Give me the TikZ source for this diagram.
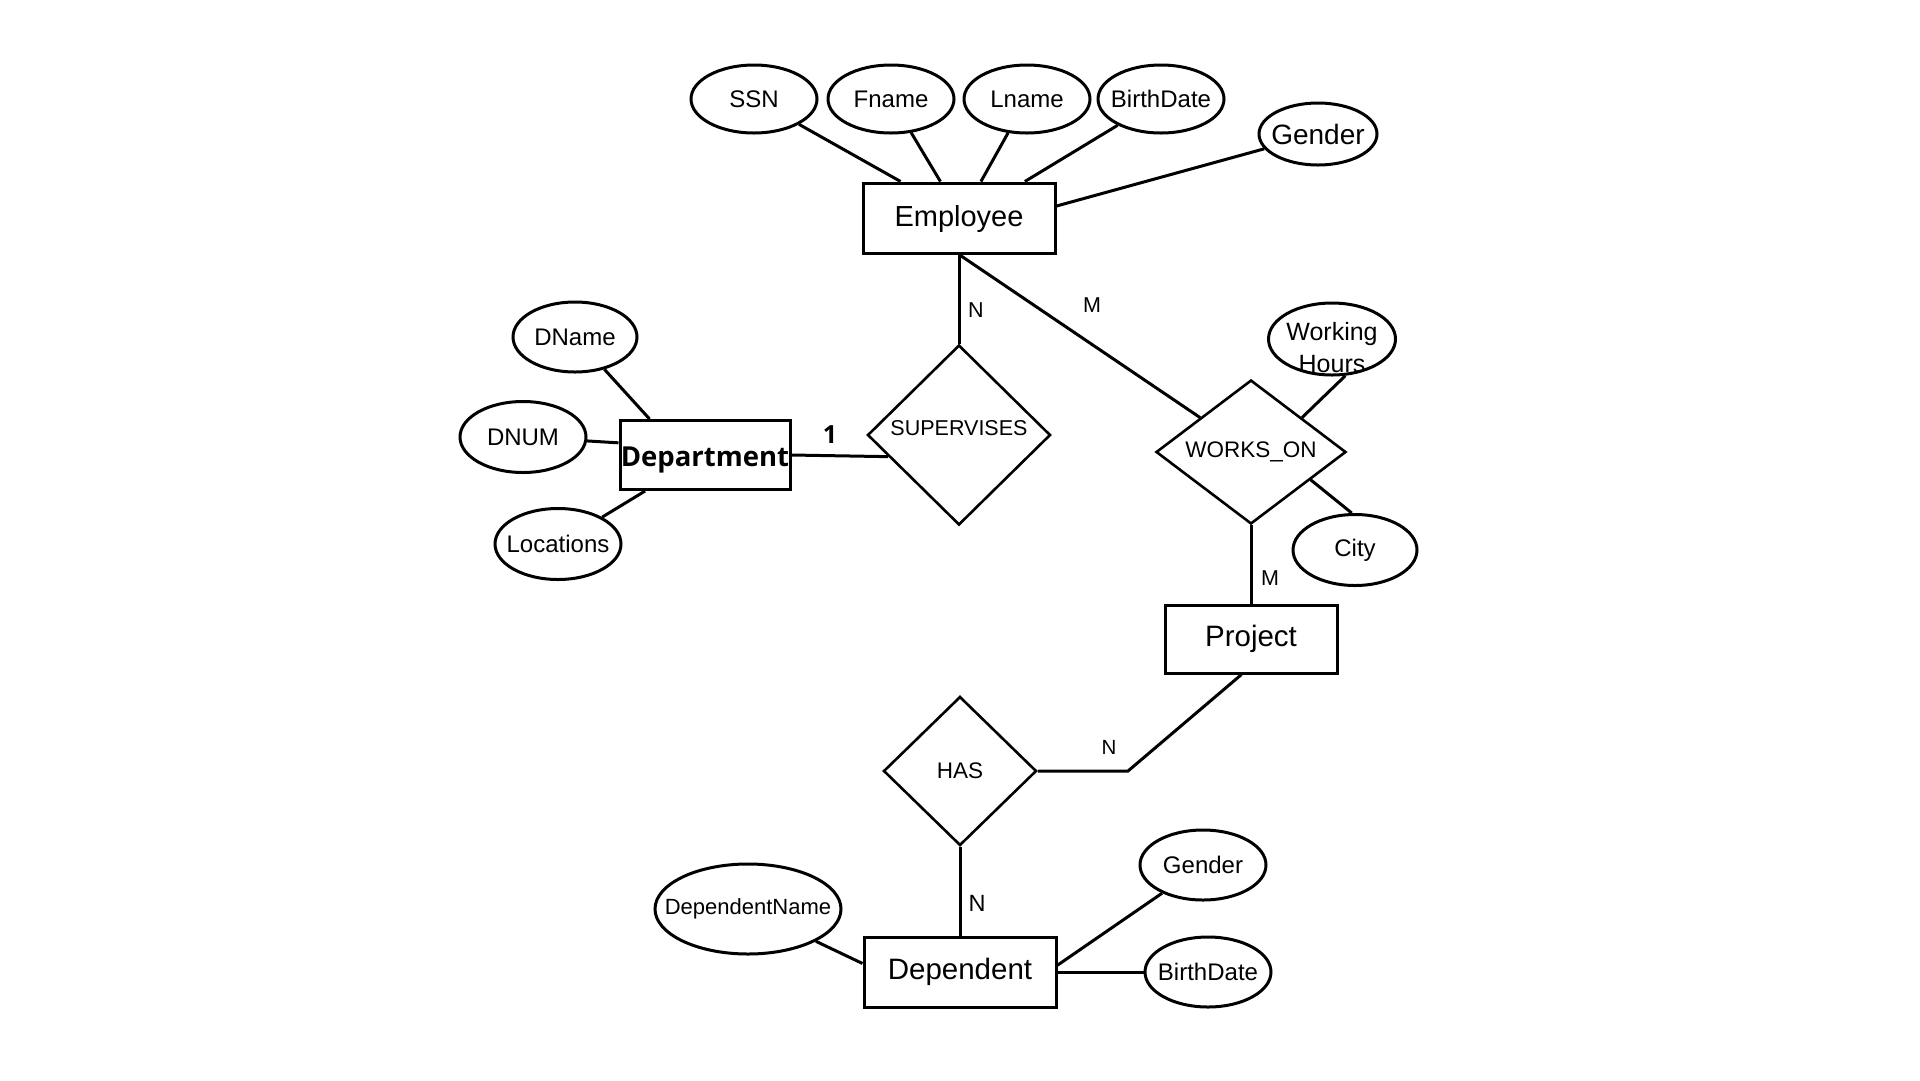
\documentclass[tikz,border=0pt]{standalone}
\usepackage{fontspec}
\setmainfont{Liberation Sans}
\newfontfamily\deptfont{Open Sans}
\usetikzlibrary{shapes}

\begin{document}
\begin{tikzpicture}[x=1pt,y=-1pt,line width=3pt,
  entity node/.style={rectangle,draw,minimum width=192pt,minimum height=70pt,inner sep=0pt,font=\fontsize{29}{34}\selectfont},
  attr node/.style={ellipse,draw,minimum width=126pt,minimum height=68pt,inner xsep=-20pt,inner ysep=-4pt,font=\fontsize{24}{30}\selectfont},
  rel node/.style={diamond,draw,line width=2.6pt,inner sep=0pt,font=\fontsize{22.5}{26}\selectfont},
  card node/.style={font=\fontsize{21.5}{24}\selectfont}]
  \useasboundingbox (0,0) rectangle (1920,1080);

  \node[entity node,text height=24pt] (emp) at (959,218) {Employee};
  \node[attr node] (ssn) at (754,99) {SSN};
  \node[attr node] (fname) at (891,99) {Fname};
  \node[attr node] (lname) at (1027,99) {Lname};
  \node[attr node] (ebdate) at (1161,99) {BirthDate};
  \node[attr node,minimum width=118pt,minimum height=62pt,font=\fontsize{28}{32}\selectfont] (egender) at (1318,134) {Gender};

  \node[rel node,minimum width=183pt,minimum height=180pt,text depth=14pt,font=\fontsize{21.5}{26}\selectfont] (sup) [below of=emp,node distance=217pt] {SUPERVISES};
  \node[entity node,minimum width=170pt,minimum height=69pt,text height=29pt,font=\deptfont\bfseries\fontsize{27.5}{32}\selectfont] (dept) at (705,455) {Department};
  \node[attr node,minimum width=124pt,minimum height=70pt] (dname) at (575,337) {DName};
  \node[attr node,minimum height=71pt] (dnum) at (523,437) {DNUM};
  \node[attr node,minimum height=71pt] (loc) at (558,544) {Locations};

  \node[rel node,minimum width=190pt,minimum height=144pt,aspect=1.3] (wo) at (1251,452) {WORKS\_ON};
  \node[attr node,minimum width=127pt,minimum height=72pt] (wh) at (1332,339) {};
  \node[align=center,font=\fontsize{25}{32}\selectfont] (whtext) at ([yshift=-9pt]wh.center) {Working\\Hours};
  \node[attr node,minimum width=124pt,minimum height=71pt] (city) at (1355,550) {City};
  \node[entity node,minimum width=172pt,minimum height=68pt,font=\fontsize{29.5}{34}\selectfont] (proj) [below of=wo,node distance=187pt] {Project};

  \node[rel node,minimum width=153pt,minimum height=149pt] (has) at (960,771) {HAS};
  \node[entity node,font=\fontsize{29.5}{34}\selectfont] (dep) [below of=has,node distance=201pt] {Dependent};
  \node[attr node,minimum width=186pt,minimum height=90pt,font=\fontsize{22}{26}\selectfont] (depname) at (748,909) {DependentName};
  \node[attr node,minimum height=70pt] (dgender) at (1203,865) {Gender};
  \node[attr node,minimum height=70pt] (dbdate) at (1208,972) {BirthDate};
  \coordinate (hasbend) at (1128,771);

  % cardinalities
  \node[card node] (cardsup) at (976,310) {N};
  \node[card node] (cardwo) at (1092,305) {M};
  \node[card node,font=\deptfont\bfseries\fontsize{25}{30}\selectfont] (carddept) at (830,435) {1};
  \node[card node] (cardproj) at (1270,578) {M};
  \node[card node,font=\fontsize{20.5}{24}\selectfont] (cardhas) at (1109,747) {N};
  \node[card node,font=\fontsize{23.5}{28}\selectfont] (carddep) at (977,903) {N};

  \path
    (ssn) edge (emp.148)
    (fname) edge (emp.117)
    (lname) edge (emp.59)
    (ebdate) edge (emp.29)
    (egender) edge (emp.7)
    (emp.south) edge (sup.north)
    (emp.south) edge (wo)
    (dname) edge (dept.147)
    (dnum) edge (dept.172)
    (loc) edge (dept.211)
    (dept.east) edge (sup.197)
    (wh.-70) edge (wo.34)
    (city.95) edge (wo.-25)
    (wo.south) edge (proj.north)
    (has.south) edge (dep.north)
    (depname) edge (dep.175)
    (dgender) edge (dep.4)
    (dep.east) edge (dbdate);
  \draw (proj.255) -- (hasbend) -- (has.east);
\end{tikzpicture}
\end{document}
